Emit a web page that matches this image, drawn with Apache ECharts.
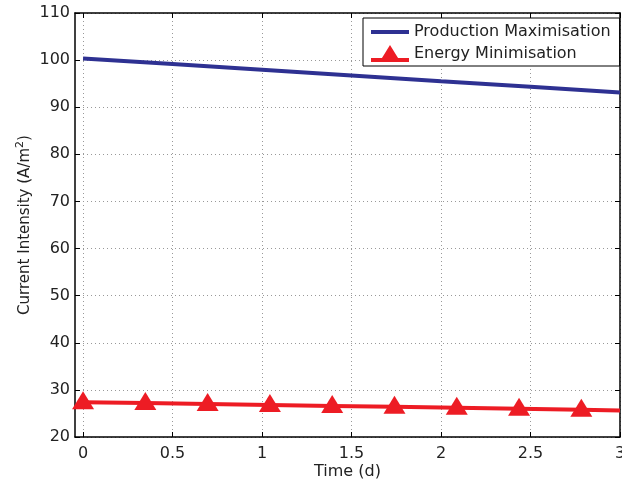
<!DOCTYPE html>
<html>
<head>
<meta charset="utf-8">
<script src="https://cdn.jsdelivr.net/npm/echarts@6/dist/echarts.min.js"></script>
<style>
  html, body { margin: 0; padding: 0; background: #fff; }
  #chart { width: 622px; height: 481px; }
</style>
</head>
<body>
<div id="chart"></div>
<script>
// Tick labels shown on each axis
const timeTicks = [0, 0.5, 1, 1.5, 2, 2.5, 3];
const intensityTicks = [20, 30, 40, 50, 60, 70, 80, 90, 100, 110];

// Production maximisation: current intensity (A/m^2) against time (d)
const prodTime = [0, 0.5, 1, 1.5, 2, 2.5, 3];
const prodCurrent = [100.35, 99.15, 97.95, 96.75, 95.5, 94.35, 93.15];

// Energy minimisation: sampled points (markers) plus the end of the run
const energyTime = [0, 0.348, 0.696, 1.044, 1.392, 1.74, 2.088, 2.436, 2.784, 3];
const energyCurrent = [27.4, 27.2, 27.0, 26.8, 26.6, 26.4, 26.2, 26.0, 25.8, 25.65];
const energyMarked = [true, true, true, true, true, true, true, true, true, false];

const FONT = 'DejaVu Sans, Liberation Sans, Arial, sans-serif';
const TEXT = '#222';
const BLUE = '#2E3192';
const RED = '#ED1C24';

const chart = echarts.init(document.getElementById('chart'), null, { renderer: 'canvas' });

const gridLine = { show: true, lineStyle: { color: '#999', type: [1, 3], width: 1 } };

function xAxisDef(position, showLabels) {
  return {
    type: 'value',
    position: position,
    min: -0.045,
    max: 3,
    axisLine: { show: true, onZero: false, lineStyle: { color: '#000', width: 1.5 } },
    axisTick: { show: true, inside: true, length: 5, customValues: timeTicks, lineStyle: { color: '#000' } },
    axisLabel: showLabels ? {
      show: true, customValues: timeTicks, fontFamily: FONT, fontSize: 16, color: TEXT, margin: 9,
      formatter: v => String(v)
    } : { show: false },
    splitLine: showLabels ? gridLine : { show: false },
    name: showLabels ? 'Time (d)' : '',
    nameLocation: 'middle',
    nameGap: 27,
    nameMoveOverlap: false,
    nameTextStyle: { fontFamily: FONT, fontSize: 16, color: TEXT }
  };
}

function yAxisDef(position, showLabels) {
  return {
    type: 'value',
    position: position,
    min: intensityTicks[0],
    max: intensityTicks[intensityTicks.length - 1],
    interval: 10,
    axisLine: { show: true, onZero: false, lineStyle: { color: '#000', width: 1.5 } },
    axisTick: { show: true, inside: true, length: 5, lineStyle: { color: '#000' } },
    axisLabel: showLabels ? { show: true, fontFamily: FONT, fontSize: 16, color: TEXT, margin: 5 } : { show: false },
    splitLine: showLabels ? gridLine : { show: false },
    name: showLabels ? 'Current Intensity (A/m{sup|2})' : '',
    nameLocation: 'middle',
    nameGap: 39,
    nameMoveOverlap: false,
    nameTextStyle: {
      fontFamily: FONT, fontSize: 15, color: TEXT, lineHeight: 21,
      rich: { sup: { fontFamily: FONT, fontSize: 11, color: TEXT, verticalAlign: 'top', lineHeight: 13 } }
    }
  };
}

const prodData = prodTime.map((t, i) => [t, prodCurrent[i]]);
const energyData = energyTime.map((t, i) => energyMarked[i]
  ? [t, energyCurrent[i]]
  : { value: [t, energyCurrent[i]], symbol: 'none' });

chart.setOption({
  animation: false,
  backgroundColor: '#fff',
  grid: { left: 75, right: 2, top: 13, bottom: 44, containLabel: false, outerBoundsMode: 'none' },
  xAxis: [xAxisDef('bottom', true), xAxisDef('top', false)],
  yAxis: [yAxisDef('left', true), yAxisDef('right', false)],
  legend: {
    orient: 'vertical',
    left: 363,
    top: 18,
    width: 257,
    padding: [6, 9, 4, 8],
    itemGap: 5,
    itemWidth: 38,
    itemHeight: 18,
    backgroundColor: '#fff',
    borderColor: '#000',
    borderWidth: 1,
    borderRadius: 0,
    textStyle: { fontFamily: FONT, fontSize: 16, color: TEXT },
    data: [
      { name: 'Production Maximisation', icon: 'path://M0,0h38v4h-38z' },
      { name: 'Energy Minimisation', icon: 'path://M0,13h38v4h-38z M8.5,17L19,0L29.5,17z' }
    ]
  },
  series: [
    {
      name: 'Production Maximisation',
      type: 'line',
      data: prodData,
      showSymbol: false,
      symbol: 'none',
      lineStyle: { color: BLUE, width: 4 },
      itemStyle: { color: BLUE },
      z: 3
    },
    {
      name: 'Energy Minimisation',
      type: 'line',
      data: energyData,
      symbol: 'triangle',
      symbolSize: [22, 18],
      symbolOffset: [0, -2],
      lineStyle: { color: RED, width: 4 },
      itemStyle: { color: RED },
      z: 3
    }
  ]
});
</script>
</body>
</html>
